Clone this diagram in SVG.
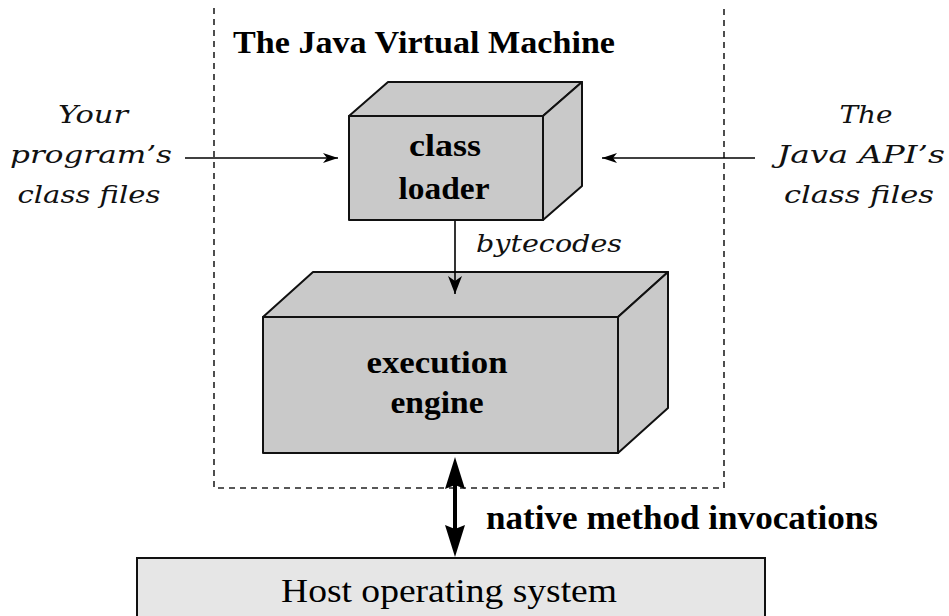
<svg xmlns="http://www.w3.org/2000/svg" width="949" height="616" viewBox="0 0 949 616">
<style>
.face{fill:#c9c9c9;stroke:#111;stroke-width:2;stroke-linejoin:round}
.host{fill:#e6e6e6;stroke:#111;stroke-width:2}
.t{font-family:"Liberation Serif","Times New Roman",serif;fill:#000}
.b{font-weight:bold}
.i{font-family:"DejaVu Serif","Liberation Serif",serif;font-style:italic;fill:#111;font-size:24px}
.frame{fill:none;stroke:#222;stroke-width:1.6;stroke-dasharray:6 5}
.line{stroke:#000;stroke-width:1.6;fill:none}
.thick{stroke:#000;stroke-width:4;fill:none}
</style>
<defs>
<marker id="small" markerUnits="userSpaceOnUse" markerWidth="18" markerHeight="12" refX="15" refY="5" orient="auto">
<path d="M0,0 L15,5 L0,10 L4,5 z" fill="#000"/>
</marker>
<marker id="mid" markerUnits="userSpaceOnUse" markerWidth="20" markerHeight="16" refX="18" refY="7" orient="auto">
<path d="M0,0 L18,7 L0,14 L5,7 z" fill="#000"/>
</marker>
<marker id="big" markerUnits="userSpaceOnUse" markerWidth="34" markerHeight="22" refX="20" refY="10" orient="auto-start-reverse">
<path d="M0,0 L32,10 L0,20 L4,10 z" fill="#000"/>
</marker>
</defs>

<g id="jvm-frame">
<path class="frame" d="M214,8 V488 H724 V8"/>
<text class="t b" x="233" y="53" font-size="32" textLength="382" lengthAdjust="spacingAndGlyphs">The Java Virtual Machine</text>
</g>

<g id="class-loader">
<polygon class="face" points="349,116 388,82 582,82 543,116"/>
<polygon class="face" points="543,116 582,82 582,186 543,220"/>
<rect class="face" x="349" y="116" width="194" height="104"/>
<text class="t b" x="445" y="156" font-size="31" text-anchor="middle" textLength="72" lengthAdjust="spacingAndGlyphs">class</text>
<text class="t b" x="444" y="199" font-size="31" text-anchor="middle" textLength="91" lengthAdjust="spacingAndGlyphs">loader</text>
</g>

<g id="execution-engine">
<polygon class="face" points="263,317 313,272 668,272 618,317"/>
<polygon class="face" points="618,317 668,272 668,408 618,453"/>
<rect class="face" x="263" y="317" width="355" height="136"/>
<text class="t b" x="437" y="373" font-size="31" text-anchor="middle" textLength="141" lengthAdjust="spacingAndGlyphs">execution</text>
<text class="t b" x="437" y="413" font-size="31" text-anchor="middle" textLength="93" lengthAdjust="spacingAndGlyphs">engine</text>
</g>

<g id="your-class-files">
<text class="i" x="93" y="123" text-anchor="middle" textLength="70" lengthAdjust="spacingAndGlyphs">Your</text>
<text class="i" x="91" y="163" text-anchor="middle" textLength="162" lengthAdjust="spacingAndGlyphs">program’s</text>
<text class="i" x="89" y="203" text-anchor="middle" textLength="143" lengthAdjust="spacingAndGlyphs">class files</text>
</g>

<g id="api-class-files">
<text class="i" x="866" y="123" text-anchor="middle" textLength="53" lengthAdjust="spacingAndGlyphs">The</text>
<text class="i" x="861" y="163" text-anchor="middle" textLength="168" lengthAdjust="spacingAndGlyphs">Java API’s</text>
<text class="i" x="859" y="203" text-anchor="middle" textLength="150" lengthAdjust="spacingAndGlyphs">class files</text>
</g>

<g id="host-os">
<rect class="host" x="137" y="558" width="628" height="70"/>
<text class="t" x="449" y="602" font-size="34" text-anchor="middle" textLength="336" lengthAdjust="spacingAndGlyphs">Host operating system</text>
</g>

<g id="connectors">
<line class="line" x1="185" y1="158" x2="338" y2="158" marker-end="url(#small)"/>
<line class="line" x1="755" y1="158" x2="602" y2="158" marker-end="url(#small)"/>
<line class="line" x1="455" y1="221" x2="455" y2="294" marker-end="url(#mid)"/>
<text class="i" x="476" y="252" textLength="146" lengthAdjust="spacingAndGlyphs">bytecodes</text>
<line class="thick" x1="455" y1="469" x2="455" y2="545" marker-start="url(#big)" marker-end="url(#big)"/>
<text class="t b" x="486" y="529" font-size="33" textLength="392" lengthAdjust="spacingAndGlyphs">native method invocations</text>
</g>
</svg>
